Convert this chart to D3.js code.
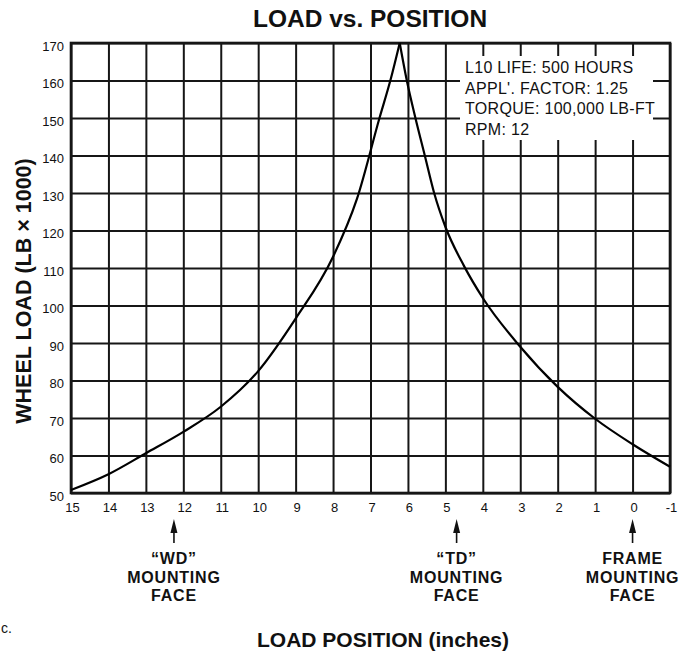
<!DOCTYPE html>
<html>
<head>
<meta charset="utf-8">
<script src="https://cdn.jsdelivr.net/npm/d3@7"></script>
<style>
  html, body { margin: 0; padding: 0; background: #fff; }
  svg { display: block; }
  text { font-family: "Liberation Sans", Arial, Helvetica, sans-serif; fill: #111; }
</style>
</head>
<body>
<svg id="chart" width="694" height="652"></svg>
<script>
// ---- data ----
const xTicks = [15, 14, 13, 12, 11, 10, 9, 8, 7, 6, 5, 4, 3, 2, 1, 0, -1];
const yTicks = [50, 60, 70, 80, 90, 100, 110, 120, 130, 140, 150, 160, 170];

// curve left of the peak (load position in inches, wheel load in 1000 lb)
const leftPos  = [15, 14, 13, 12, 11, 10, 9, 8, 7.36, 6.76, 6.47, 6.22];
const leftLoad = [50.8, 55, 60.6, 66.3, 73, 82.5, 96.5, 113, 128.5, 150, 160, 170];
// curve right of the peak
const rightPos  = [6.22, 6.03, 5.8, 5.55, 5.3, 5.0, 4.5, 4.0, 3.0, 2.0, 1.0, 0, -1];
const rightLoad = [170, 160, 150, 140, 130, 121, 110.5, 102, 89, 78.3, 69.8, 63, 57];

const noteLines = ["L10 LIFE: 500 HOURS", "APPL'. FACTOR: 1.25", "TORQUE: 100,000 LB-FT", "RPM: 12"];
const markerPos = [12.25, 4.7, 0];
const markerLabels = [["\u201CWD\u201D", "MOUNTING", "FACE"], ["\u201CTD\u201D", "MOUNTING", "FACE"], ["FRAME", "MOUNTING", "FACE"]];

const title = "LOAD vs. POSITION";
const xTitle = "LOAD POSITION (inches)";
const yTitle = "WHEEL LOAD (LB \u00D7 1000)";

// ---- layout ----
const margin = { left: 71, top: 43, right: 24, bottom: 159 };
const W = 694, H = 652;
const w = W - margin.left - margin.right;   // 599
const h = H - margin.top - margin.bottom;   // 450
const ink = "#161616";

const svg = d3.select("#chart");
const g = svg.append("g").attr("transform", `translate(${margin.left},${margin.top})`);

const x = d3.scaleLinear().domain([15, -1]).range([0, w]);
const y = d3.scaleLinear().domain([50, 170]).range([h, 0]);

// grid + tick labels through axes
const xAxis = g.append("g")
  .attr("transform", `translate(0,${h})`)
  .call(d3.axisBottom(x).tickValues(xTicks).tickFormat(d => String(d)).tickSize(-h).tickPadding(10));
const yAxis = g.append("g")
  .call(d3.axisLeft(y).tickValues(yTicks).tickFormat(d => String(d)).tickSize(-w).tickPadding(7));

[xAxis, yAxis].forEach(a => {
  a.select(".domain").remove();
  a.selectAll(".tick line").attr("stroke", ink).attr("stroke-width", 2);
  a.selectAll(".tick text").attr("fill", ink).style("font-size", "13px").attr("font-family", null);
});
yAxis.selectAll(".tick text").attr("transform", "translate(0,3)");
xAxis.selectAll(".tick text").attr("transform", "translate(1,0)");

// white box behind the note text
g.append("rect")
  .attr("x", 460 - margin.left).attr("y", 56 - margin.top)
  .attr("width", 193).attr("height", 84)
  .attr("fill", "#fff");

// plot border
g.append("rect")
  .attr("x", 0).attr("y", 0).attr("width", w).attr("height", h)
  .attr("fill", "none").attr("stroke", ink).attr("stroke-width", 2.6);

// curve
const line = d3.line().x(d => x(d[0])).y(d => y(d[1])).curve(d3.curveMonotoneX);
const leftData = leftPos.map((p, i) => [p, leftLoad[i]]);
const rightData = rightPos.map((p, i) => [p, rightLoad[i]]);
[leftData, rightData].forEach(d => {
  g.append("path").datum(d).attr("d", line)
    .attr("fill", "none").attr("stroke", "#000").attr("stroke-width", 2.2)
    .attr("stroke-linejoin", "round");
});

// note text
g.append("g").selectAll("text").data(noteLines).join("text")
  .attr("x", 465 - margin.left)
  .attr("y", (d, i) => 73 - margin.top + i * 20.7)
  .style("font-size", "16px").style("letter-spacing", "0.3px")
  .text(d => d);

// title
svg.append("text").attr("x", 370).attr("y", 27)
  .attr("text-anchor", "middle").style("font-size", "24.5px").style("font-weight", "bold")
  .text(title);

// axis titles
svg.append("text").attr("x", 383).attr("y", 647)
  .attr("text-anchor", "middle").style("font-size", "21px").style("font-weight", "bold")
  .text(xTitle);
svg.append("text").attr("transform", "translate(31,291) rotate(-90)")
  .attr("text-anchor", "middle").style("font-size", "21.5px").style("font-weight", "bold")
  .text(yTitle);

// mounting face markers
const mk = svg.append("g");
markerPos.forEach((p, i) => {
  const cx = margin.left + x(p);
  const m = mk.append("g").attr("transform", `translate(${cx},0)`);
  m.append("path").attr("d", "M0,519 L3.5,533 L-3.5,533 Z").attr("fill", "#111");
  m.append("line").attr("x1", 0).attr("x2", 0).attr("y1", 531).attr("y2", 543)
    .attr("stroke", "#111").attr("stroke-width", 1.6);
  m.selectAll("text").data(markerLabels[i]).join("text")
    .attr("x", 0).attr("y", (d, j) => 564 + j * 18.5)
    .attr("text-anchor", "middle").style("font-size", "16px").style("font-weight", "bold")
    .style("letter-spacing", "0.8px")
    .text(d => d);
});

// scan fragment at lower-left
svg.append("text").attr("x", 1).attr("y", 633).style("font-size", "14px").attr("fill", "#333").text("c.");
</script>
</body>
</html>
